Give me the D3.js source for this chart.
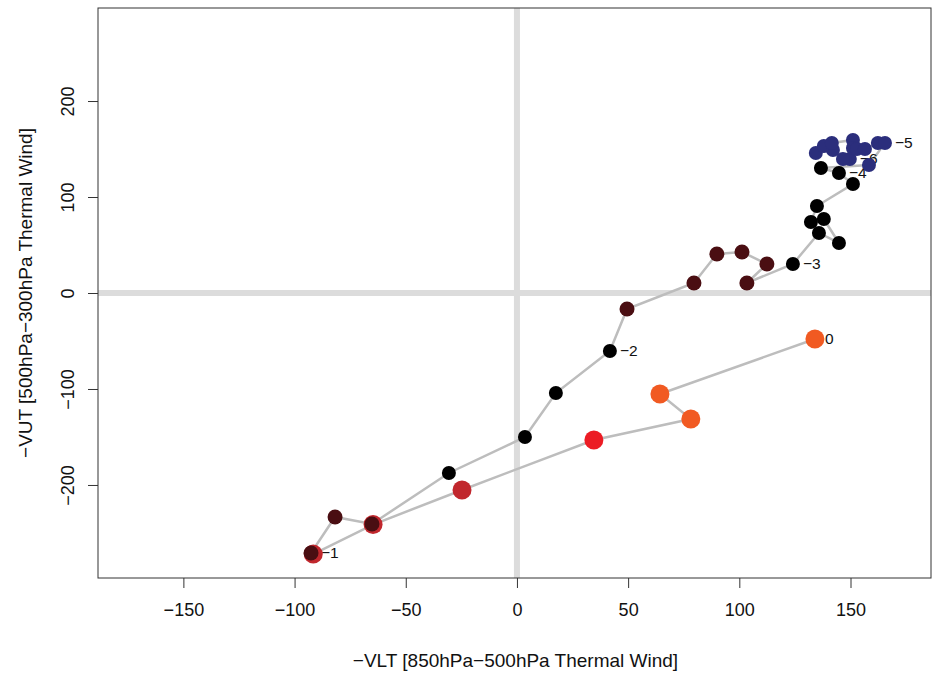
<!DOCTYPE html>
<html>
<head>
<meta charset="utf-8">
<script src="https://cdn.jsdelivr.net/npm/d3@7"></script>
<style>
  body { margin: 0; background: #fff; }
  text { font-family: "Liberation Sans", Arial, sans-serif; fill: #111; }
</style>
</head>
<body>
<div id="chart-area"></div>
<script>
// Trajectory values (-VLT, -VUT), in drawing order
let vlt = [149.7, 146.6, 142.1, 134.4, 138.0, 141.6, 151.1, 151.1, 152.9, 156.5, 162.3, 165.5, 158.3,
    136.7, 144.8, 151.1, 134.9, 132.2, 138.0, 144.8, 135.8, 124.1,
    103.4, 112.4, 101.2, 89.9, 79.6, 49.5,
    41.8, 17.5, 3.6, -30.6,
    -65.2, -81.8, -92.6,
    -91.6, -64.7, -24.7, 34.6, 78.2, 64.3, 134.0];
let vut = [139.6, 139.6, 149.0, 145.8, 153.1, 156.3, 159.4, 151.0, 150.0, 150.0, 156.3, 156.3, 133.3,
    130.2, 125.0, 113.5, 90.6, 74.0, 77.1, 52.1, 62.5, 30.2,
    10.4, 30.2, 42.7, 40.6, 10.4, -16.7,
    -60.4, -104.2, -150.0, -187.5,
    -240.6, -233.3, -270.8,
    -272.0, -241.2, -205.2, -153.1, -131.3, -105.2, -47.9];
// colour class of each point
let stage = ["N", "N", "N", "N", "N", "N", "N", "N", "N", "N", "N", "N", "N",
    "B", "B", "B", "B", "B", "B", "B", "B", "B",
    "M", "M", "M", "M", "M", "M",
    "B", "B", "B", "B",
    "M", "M", "M",
    "R", "R", "R", "BR", "O", "O", "O"];
// day labels
let labelIndex = [0, 11, 14, 21, 28, 34, 41];
let labelText = ["\u22126", "\u22125", "\u22124", "\u22123", "\u22122", "\u22121", "0"];

let xTicks = [-150, -100, -50, 0, 50, 100, 150];
let yTicks = [-200, -100, 0, 100, 200];

let stageColor = {N: "#2b2e7c", B: "#000000", M: "#4a0e12", R: "#c1272d", BR: "#ec1c24", O: "#f15a22"};
let stageRadius = {N: 7, B: 7, M: 7.5, R: 9.5, BR: 9.5, O: 9.5};

let points = vlt.map((v, i) => ({x: v, y: vut[i], s: stage[i], i: i}));

let W = 932, H = 675;
let plot = {left: 98, right: 931, top: 8, bottom: 578};

let svg = d3.select("#chart-area").append("svg")
    .attr("width", W)
    .attr("height", H);

let x = d3.scaleLinear().domain([-188.4, 186.2]).range([plot.left, plot.right]);
let y = d3.scaleLinear().domain([-296.9, 296.9]).range([plot.bottom, plot.top]);

let fmt = d => d < 0 ? "\u2212" + Math.abs(d) : d;

// zero lines
svg.append("line")
    .attr("x1", x(0)).attr("x2", x(0))
    .attr("y1", plot.top).attr("y2", plot.bottom)
    .attr("stroke", "#dcdcdc").attr("stroke-width", 6);
svg.append("line")
    .attr("x1", plot.left).attr("x2", plot.right)
    .attr("y1", y(0)).attr("y2", y(0))
    .attr("stroke", "#dcdcdc").attr("stroke-width", 6);

// trajectory
svg.append("path")
    .datum(points)
    .attr("fill", "none")
    .attr("stroke", "#bdbdbd")
    .attr("stroke-width", 2.5)
    .attr("d", d3.line().x(d => x(d.x)).y(d => y(d.y)));

// day labels (drawn under the points)
svg.selectAll("text.day")
    .data(labelIndex)
    .enter()
    .append("text")
    .attr("class", "day")
    .attr("x", i => x(vlt[i]) + 10)
    .attr("y", i => y(vut[i]))
    .attr("dy", "0.35em")
    .style("font-size", "15.5px")
    .text((i, k) => labelText[k]);

// points, larger ones first
svg.selectAll("circle")
    .data(points.slice().sort((a, b) => stageRadius[b.s] - stageRadius[a.s] || a.i - b.i))
    .enter()
    .append("circle")
    .attr("cx", d => x(d.x))
    .attr("cy", d => y(d.y))
    .attr("r", d => stageRadius[d.s])
    .attr("fill", d => stageColor[d.s]);

// box
svg.append("rect")
    .attr("x", plot.left).attr("y", plot.top)
    .attr("width", plot.right - plot.left)
    .attr("height", plot.bottom - plot.top)
    .attr("fill", "none")
    .attr("stroke", "#333")
    .attr("stroke-width", 1);

// x axis
let xAxis = svg.append("g")
    .attr("transform", "translate(0," + plot.bottom + ")")
    .call(d3.axisBottom(x).tickValues(xTicks).tickSize(10).tickPadding(15).tickFormat(fmt));
xAxis.select(".domain").remove();
xAxis.selectAll("line").attr("stroke", "#333");
xAxis.selectAll("text").style("font-size", "18px").attr("fill", "#111");

// y axis
let yAxis = svg.append("g")
    .attr("transform", "translate(" + plot.left + ",0)")
    .call(d3.axisLeft(y).tickValues(yTicks).tickSize(10).tickFormat(fmt));
yAxis.select(".domain").remove();
yAxis.selectAll("line").attr("stroke", "#333");
yAxis.selectAll("text")
    .style("font-size", "18px")
    .attr("fill", "#111")
    .attr("x", 0).attr("dy", 0)
    .attr("text-anchor", "middle")
    .attr("transform", "translate(-24,0) rotate(-90)");

// axis titles
svg.append("text")
    .attr("x", (plot.left + plot.right) / 2 + 1)
    .attr("y", 667)
    .attr("text-anchor", "middle")
    .style("font-size", "19px")
    .text("\u2212VLT [850hPa\u2212500hPa Thermal Wind]");

svg.append("text")
    .attr("transform", "translate(32," + y(0) + ") rotate(-90)")
    .attr("text-anchor", "middle")
    .style("font-size", "19px")
    .text("\u2212VUT [500hPa\u2212300hPa Thermal Wind]");
</script>
</body>
</html>
